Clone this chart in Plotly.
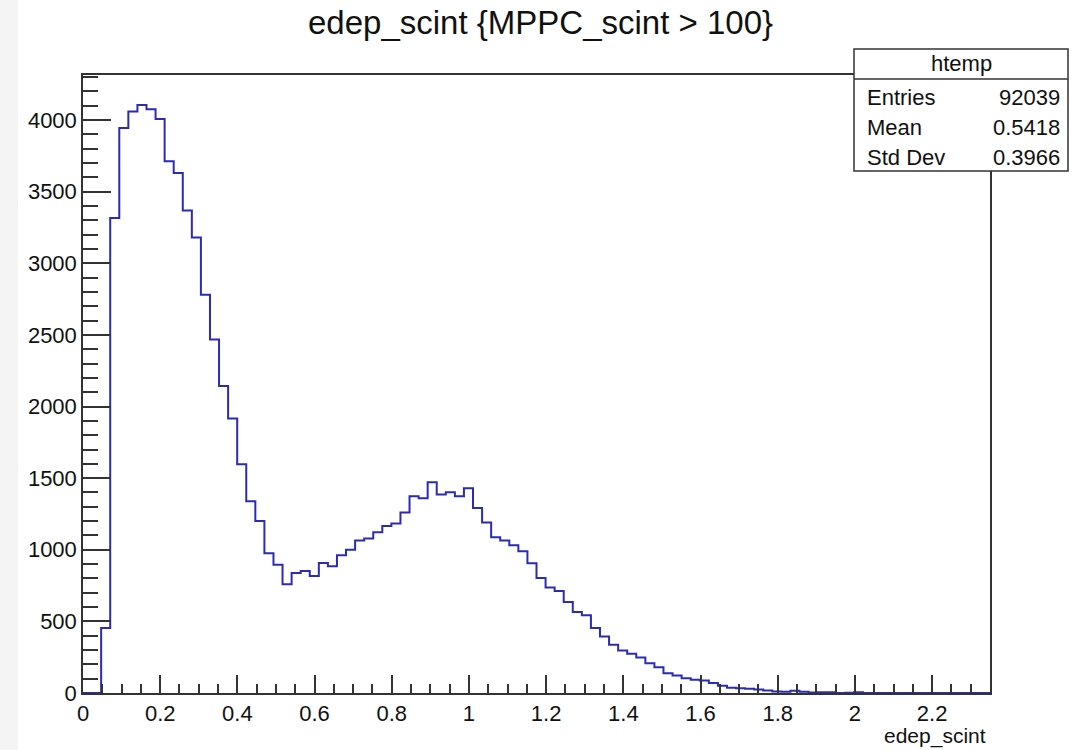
import plotly.graph_objects as go

# ---- data ----
x_min = 0.0
x_max = 2.35
n_bins = 100
counts = [0, 0, 453, 3316, 3945, 4060, 4106, 4076, 4008, 3712,
          3631, 3369, 3180, 2780, 2468, 2143, 1917, 1598, 1339, 1201,
          975, 895, 759, 838, 852, 817, 908, 885, 962, 1001,
          1064, 1078, 1122, 1166, 1183, 1260, 1374, 1360, 1472, 1386,
          1402, 1374, 1430, 1292, 1190, 1087, 1064, 1031, 990, 906,
          803, 736, 712, 636, 565, 542, 453, 395, 337, 297,
          274, 248, 208, 180, 138, 122, 103, 92, 87, 69,
          50, 36, 33, 30, 24, 17, 10, 8, 15, 8,
          3, 6, 6, 0, 1, 5, 0, 0, 0, 0,
          0, 0, 0, 0, 0, 0, 0, 0, 0, 0]
y_max = 4315
x_tick_vals = [0, 0.2, 0.4, 0.6, 0.8, 1.0, 1.2, 1.4, 1.6, 1.8, 2.0, 2.2]
x_tick_text = ["0", "0.2", "0.4", "0.6", "0.8", "1", "1.2", "1.4", "1.6", "1.8", "2", "2.2"]
y_tick_vals = [0, 500, 1000, 1500, 2000, 2500, 3000, 3500, 4000]
y_tick_text = ["0", "500", "1000", "1500", "2000", "2500", "3000", "3500", "4000"]
title_text = "edep_scint {MPPC_scint > 100}"
x_title = "edep_scint"
stats_name = "htemp"
stats_labels = ["Entries", "Mean", "Std Dev"]
stats_values = ["92039", "0.5418", "0.3966"]

# ---- layout geometry ----
W, H = 1091, 750
L, R, T, B = 83, 101, 75, 57
pw, ph = W - L - R, H - T - B

def px(xp):
    return (xp - L) / pw

def py(yp):
    return (H - B - yp) / ph

bw = (x_max - x_min) / n_bins
edges = [x_min + i * bw for i in range(n_bins + 1)]
xs = edges
ys = counts + [counts[-1]]

FONT = "Liberation Sans, Arial, Helvetica, sans-serif"
AX = "#333333"
TXT = "#111111"

fig = go.Figure()
fig.add_trace(go.Scatter(x=xs, y=ys, mode="lines", line=dict(color="#2b2bb8", width=2, shape="hv"),
                         hoverinfo="skip", showlegend=False))

fig.update_layout(
    width=W, height=H,
    margin=dict(l=L, r=R, t=T, b=B),
    paper_bgcolor="white", plot_bgcolor="white",
    font=dict(family=FONT, color=TXT, size=22),
    showlegend=False,
)
fig.update_xaxes(range=[x_min, x_max], showgrid=False, zeroline=False,
                 showline=True, linecolor=AX, linewidth=1.5, mirror=True,
                 ticks="inside", ticklen=18, tickcolor=AX, tickwidth=1.5,
                 tickvals=x_tick_vals, ticktext=x_tick_text,
                 tickfont=dict(size=22, family=FONT, color=TXT),
                 minor=dict(dtick=0.05, tick0=0, ticks="inside", ticklen=9, tickcolor=AX, tickwidth=1.5, showgrid=False))
fig.update_yaxes(range=[0, y_max], showgrid=False, zeroline=False,
                 showline=True, linecolor=AX, linewidth=1.5, mirror=True,
                 ticks="inside", ticklen=28, tickcolor=AX, tickwidth=1.5,
                 tickvals=y_tick_vals, ticktext=y_tick_text,
                 tickfont=dict(size=22, family=FONT, color=TXT),
                 minor=dict(dtick=100, tick0=0, ticks="inside", ticklen=15, tickcolor=AX, tickwidth=1.5, showgrid=False))

# faint grey strip on the left edge of the picture
fig.add_shape(type="rect", xref="paper", yref="paper", x0=px(0), x1=px(18), y0=py(H), y1=py(0),
              line=dict(width=0), fillcolor="#f4f4f4", layer="below")

# title
fig.add_annotation(text=title_text, xref="paper", yref="paper", x=px(540), y=py(23),
                   xanchor="center", yanchor="middle", showarrow=False,
                   font=dict(size=33, family=FONT, color=TXT))
# x axis title
fig.add_annotation(text=x_title, xref="paper", yref="paper", x=px(988), y=py(750),
                   xanchor="right", yanchor="bottom", showarrow=False,
                   font=dict(size=21, family=FONT, color=TXT))

# stats box
bx0, bx1, by0, by1, bsep = 854, 1068, 49, 171, 79
fig.add_shape(type="rect", xref="paper", yref="paper", x0=px(bx0), x1=px(bx1), y0=py(by1), y1=py(by0),
              line=dict(color=AX, width=1.5), fillcolor="white", layer="above")
fig.add_shape(type="line", xref="paper", yref="paper", x0=px(bx0), x1=px(bx1), y0=py(bsep), y1=py(bsep),
              line=dict(color=AX, width=1.5), layer="above")
fig.add_annotation(text=stats_name, xref="paper", yref="paper", x=px((bx0 + bx1) / 2), y=py(64),
                   xanchor="center", yanchor="middle", showarrow=False,
                   font=dict(size=22, family=FONT, color=TXT))
row_y = [97, 127, 157]
for lab, val, yy in zip(stats_labels, stats_values, row_y):
    fig.add_annotation(text=lab, xref="paper", yref="paper", x=px(865), y=py(yy),
                       xanchor="left", yanchor="middle", showarrow=False,
                       font=dict(size=22, family=FONT, color=TXT))
    fig.add_annotation(text=val, xref="paper", yref="paper", x=px(1062), y=py(yy),
                       xanchor="right", yanchor="middle", showarrow=False,
                       font=dict(size=22, family=FONT, color=TXT))

fig.write_html("out.html")
